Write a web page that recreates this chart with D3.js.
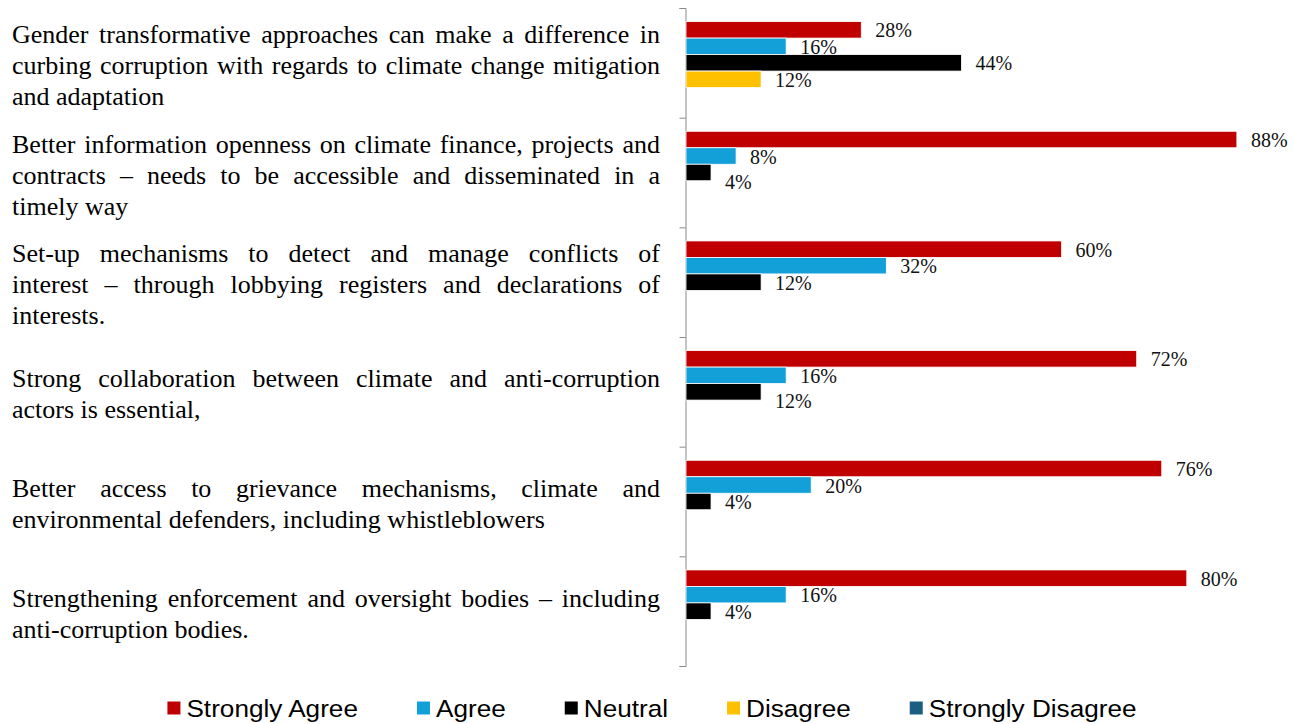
<!DOCTYPE html>
<html>
<head>
<meta charset="utf-8">
<script src="https://cdn.jsdelivr.net/npm/d3@7"></script>
<style>
  html, body { margin: 0; padding: 0; background: #ffffff; }
  svg { display: block; }
</style>
</head>
<body>
<svg id="chart" width="1308" height="724"></svg>
<script>
// Statements, each split into the lines it is printed on
const categoryLines = [
  ["Gender transformative approaches can make a difference in",
   "curbing corruption with regards to climate change mitigation",
   "and adaptation"],
  ["Better information openness on climate finance, projects and",
   "contracts \u2013 needs to be accessible and disseminated in a",
   "timely way"],
  ["Set-up mechanisms to detect and manage conflicts of",
   "interest \u2013 through lobbying registers and declarations of",
   "interests."],
  ["Strong collaboration between climate and anti-corruption",
   "actors is essential,"],
  ["Better access to grievance mechanisms, climate and",
   "environmental defenders, including whistleblowers"],
  ["Strengthening enforcement and oversight bodies \u2013 including",
   "anti-corruption bodies."]
];

const seriesNames = ["Strongly Agree", "Agree", "Neutral", "Disagree", "Strongly Disagree"];

// Share of respondents (%) per statement; null = no answers
const stronglyAgree    = [28, 88, 60, 72, 76, 80];
const agree            = [16, 8, 32, 16, 20, 16];
const neutral          = [44, 4, 12, 12, 4, 4];
const disagree         = [12, null, null, null, null, null];
const stronglyDisagree = [null, null, null, null, null, null];

const seriesValues = [stronglyAgree, agree, neutral, disagree, stronglyDisagree];
const seriesColors = ["#C00000", "#13A0D8", "#000000", "#FFC000", "#1A5E82"];

const svg = d3.select("#chart");
const serif = "'Liberation Serif', 'Times New Roman', Times, serif";
const sans = "'Liberation Sans', Arial, Helvetica, sans-serif";

const catIds = categoryLines.map((d, i) => i);
const plotTop = 8, plotBottom = 666, axisX = 686;

const y = d3.scaleBand().domain(catIds).range([plotTop, plotBottom]).paddingInner(0).paddingOuter(0);
const ySeries = d3.scaleBand().domain(seriesNames).range([0, y.bandwidth()])
  .paddingInner(0).paddingOuter(0.825);
const x = d3.scaleLinear().domain([0, 100]).range([axisX, axisX + 626]);

// Category axis with tick marks on the band boundaries
const yEdges = d3.scaleLinear().domain([0, catIds.length]).range([plotTop, plotBottom]);
const axisG = svg.append("g")
  .attr("transform", `translate(${axisX - 0.5},0)`)
  .call(d3.axisLeft(yEdges).tickValues(d3.range(catIds.length + 1)).tickSize(6).tickFormat(""));
axisG.select(".domain").attr("stroke", "#8a8a8a").attr("stroke-width", 1);
axisG.selectAll(".tick line").attr("stroke", "#8a8a8a").attr("stroke-width", 1);

// Bars
const barData = [];
catIds.forEach(ci => {
  seriesNames.forEach((s, si) => {
    const v = seriesValues[si][ci];
    if (v != null) barData.push({ ci, si, s, v });
  });
});

svg.append("g").selectAll("rect").data(barData).join("rect")
  .attr("x", x(0))
  .attr("y", d => y(d.ci) + ySeries(d.s))
  .attr("width", d => x(d.v) - x(0))
  .attr("height", ySeries.bandwidth())
  .attr("fill", d => seriesColors[d.si])
  .attr("stroke", "#ffffff")
  .attr("stroke-width", 0.8);

// Value labels, nudged down when they would collide with the label above
const labelG = svg.append("g")
  .attr("font-family", serif).attr("font-size", 20).attr("fill", "#111");
catIds.forEach(ci => {
  const placed = [];
  barData.filter(d => d.ci === ci).forEach(d => {
    const lx = x(d.v) + 14;
    let base = y(ci) + ySeries(d.s) + ySeries.bandwidth() / 2 + 7.5;
    const t = labelG.append("text").attr("x", lx).text(d.v + "%");
    const w = t.node().getComputedTextLength();
    placed.forEach(p => {
      const overlapX = lx < p.x1 && lx + w > p.x0;
      if (overlapX && base - p.base < 25) base = p.base + 25;
    });
    t.attr("y", base);
    placed.push({ x0: lx, x1: lx + w, base });
  });
});

// Justified statement labels
const textScale = 1.04;
const textLeft = 12, textRight = 660, lineStep = 31;
const availLocal = (textRight - textLeft) / textScale;
const catG = svg.append("g").attr("font-family", serif).attr("font-size", 25).attr("fill", "#000");
const measure = catG.append("text").attr("visibility", "hidden");
const wordWidth = w => { measure.text(w); return measure.node().getComputedTextLength(); };

categoryLines.forEach((lines, ci) => {
  const n = lines.length;
  const centre = y(ci) + y.bandwidth() / 2;
  lines.forEach((line, j) => {
    const base = centre + (j - (n - 1) / 2) * lineStep + 11;
    const g = catG.append("g").attr("transform", `translate(${textLeft},${base}) scale(${textScale},1)`);
    const isLast = j === n - 1;
    if (isLast) {
      g.append("text").attr("x", 0).attr("y", 0).text(line);
    } else {
      const words = line.split(" ");
      const widths = words.map(wordWidth);
      const total = d3.sum(widths);
      const gap = words.length > 1 ? Math.max((availLocal - total) / (words.length - 1), 3) : 0;
      let cx = 0;
      words.forEach((wd, k) => {
        g.append("text").attr("x", cx).attr("y", 0).text(wd);
        cx += widths[k] + gap;
      });
    }
  });
});
measure.remove();

// Legend
const legendScale = 1.09;
const legendG = svg.append("g").attr("font-family", sans).attr("font-size", 24).attr("fill", "#000");
let lx = 0;
const swatch = 13, swGap = 6, itemGap = 59, legendBase = 717;
seriesNames.forEach((s, si) => {
  legendG.append("rect")
    .attr("x", lx).attr("y", legendBase - 15.5)
    .attr("width", swatch).attr("height", swatch)
    .attr("fill", seriesColors[si]);
  const tg = legendG.append("g").attr("transform", `translate(${lx + swatch + swGap},${legendBase}) scale(${legendScale},1)`);
  const t = tg.append("text").attr("x", 0).attr("y", 0).text(s);
  const w = t.node().getComputedTextLength() * legendScale;
  lx += swatch + swGap + w + itemGap;
});
const legendWidth = lx - itemGap;
legendG.attr("transform", `translate(${652 - legendWidth / 2},0)`);
</script>
</body>
</html>
